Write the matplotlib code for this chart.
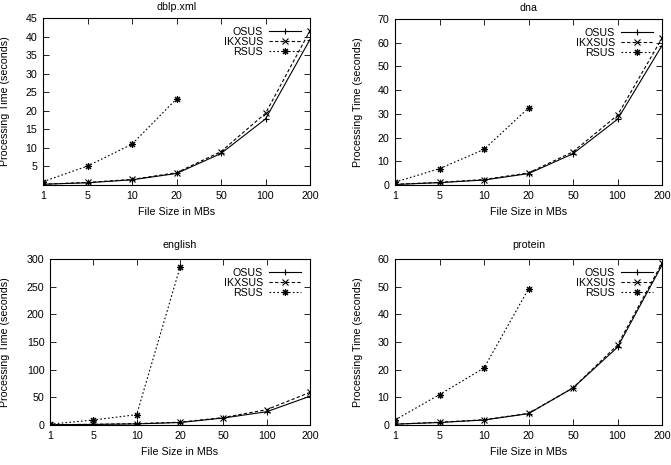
import matplotlib
matplotlib.use("Agg")
import matplotlib.pyplot as plt

plt.rcParams['font.family'] = ['Liberation Sans', 'DejaVu Sans']

sizes = ["1", "5", "10", "20", "50", "100", "200"]
series_names = ["OSUS", "IKXSUS", "RSUS"]

dblp_osus = [0.2, 0.6, 1.4, 3.1, 8.5, 17.8, 39.2]
dblp_ikx = [0.2, 0.7, 1.5, 3.3, 9.0, 19.3, 41.6]
dblp_rsus = [0.9, 5.1, 11.0, 23.2]

dna_osus = [0.2, 1.0, 2.1, 4.8, 13.2, 27.7, 58.8]
dna_ikx = [0.3, 1.1, 2.3, 5.1, 14.0, 29.4, 61.9]
dna_rsus = [1.2, 6.9, 15.0, 32.5]

eng_osus = [0.5, 1.0, 2.0, 4.5, 12.6, 24.0, 52.0]
eng_ikx = [0.6, 1.2, 2.5, 5.0, 13.5, 27.7, 59.0]
eng_rsus = [1.5, 9.0, 18.7, 285.0]

prot_osus = [0.3, 0.9, 1.8, 4.1, 13.4, 28.1, 57.8]
prot_ikx = [0.3, 1.0, 1.9, 4.2, 13.4, 28.9, 58.5]
prot_rsus = [1.8, 11.0, 20.6, 49.2]

panels = [
    ("dblp.xml", dblp_osus, dblp_ikx, dblp_rsus, 45, [5, 10, 15, 20, 25, 30, 35, 40, 45]),
    ("dna", dna_osus, dna_ikx, dna_rsus, 70, [0, 10, 20, 30, 40, 50, 60, 70]),
    ("english", eng_osus, eng_ikx, eng_rsus, 300, [0, 50, 100, 150, 200, 250, 300]),
    ("protein", prot_osus, prot_ikx, prot_rsus, 60, [0, 10, 20, 30, 40, 50, 60]),
]

W, H = 671, 465
fig = plt.figure(figsize=(W / 100, H / 100), dpi=100)

boxes = [
    (43, 310, 18, 185),
    (395, 662, 19, 185),
    (50, 310, 259, 425),
    (395, 662, 259, 425),
]
ylab_x = [10, 363, 10, 363]
title_pad = [5.5, 5.5, 8, 8]

star = (8, 2, 0)
fs = 7.7

for i, (title, osus, ikx, rsus, ymax, yt) in enumerate(panels):
    l, r, t, b = boxes[i]
    ax = fig.add_axes([l / W, 1 - b / H, (r - l) / W, (b - t) / H])
    x = list(range(len(sizes)))
    ax.plot(x, osus, color='black', lw=0.8, ls='-', marker='+', ms=5, mew=0.8, label='OSUS')
    ax.plot(x, ikx, color='black', lw=0.8, ls=(0, (3, 2)), marker='x', ms=4, mew=0.8, label='IKXSUS')
    ax.plot(x[:len(rsus)], rsus, color='black', lw=0.8, ls=(0, (1.5, 2)), marker=star, ms=5, mew=0.8, label='RSUS')
    ax.set_xlim(0, len(sizes) - 1)
    ax.set_ylim(0, ymax)
    ax.set_xticks(x)
    ax.set_xticklabels(sizes)
    ax.set_yticks(yt)
    ax.tick_params(direction='in', length=4, width=0.6, top=True, right=True, labelsize=fs, pad=4)
    for s in ax.spines.values():
        s.set_linewidth(0.8)
    ax.set_title(title, fontsize=fs, pad=title_pad[i])
    ax.set_xlabel("File Size in MBs", fontsize=fs)
    ax.set_ylabel("Processing Time (seconds)", fontsize=fs)
    ax.xaxis.set_label_coords(0.5, -22 / (b - t))
    ax.yaxis.set_label_coords((ylab_x[i] - l) / (r - l), 0.5)
    leg = ax.legend(loc='upper right', frameon=False, markerfirst=False, fontsize=fs,
                    handlelength=3.0, handletextpad=0.6, labelspacing=0.0,
                    borderaxespad=0.6, borderpad=0.2)
    for txt in leg.get_texts():
        txt.set_ha('right')

fig.savefig("out.png", dpi=100)
